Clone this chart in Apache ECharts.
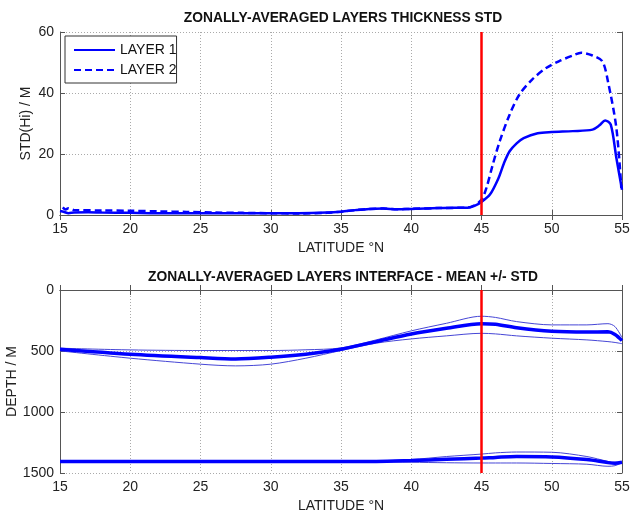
<!DOCTYPE html>
<html><head><meta charset="utf-8">
<script src="https://cdn.jsdelivr.net/npm/echarts@6/dist/echarts.min.js"></script>
<style>html,body{margin:0;padding:0;background:#fff}#c{width:632px;height:513px}</style>
</head><body><div id="c"></div>
<script>
// ---- data ----
const markerLat = 45;

const layer1Lat = [15.0,15.3,15.6,16,17,18,20,22,25,28,30,32,34,35,36,37,38,39,40,41,42,43,44,44.5,45,45.6,46.2,46.6,47.0,47.5,48.0,49.0,50.0,51.5,52.9,53.4,53.8,54.2,54.6,55.0];
const layer1Std = [1.3,1.0,0.6,0.8,0.9,0.8,0.7,0.6,0.6,0.6,0.6,0.6,0.8,1.1,1.6,2.0,2.1,1.9,2.0,2.1,2.3,2.4,2.4,3.0,4.3,6.7,12,17,20.9,23.5,25.2,26.8,27.2,27.5,28.0,29.4,31.0,29.6,18.7,8.3];

const layer2Lat = [15.2,15.4,15.6,16,18,20,22,24,26,28,30,32,34,35,36,37,38,39,40,42,44,44.5,45,45.35,45.8,46.3,47.0,47.7,48.6,49.6,50.5,51.5,52.1,52.9,53.6,54.0,54.6,54.95];
const layer2Std = [2.5,1.8,2.2,1.6,1.5,1.4,1.2,1.0,0.8,0.7,0.6,0.5,0.7,1.1,1.6,2.0,2.1,1.9,2.0,2.3,2.4,3.2,5.0,8.9,16.5,24.2,32.9,39.5,44.4,48.2,50.4,52.3,53.2,52.3,50.4,43.8,28.5,8.9];

const ifaceLat = [15,20,25,27.5,30,32.5,35,37.5,40,42.5,45,46,47.5,50,52.5,54,54.5,55];
const iface1Mean = [485,526,554,565,551,526,485,423,360,314,276,281,310,338,344,343,365,415];
const iface1Up   = [477,491,496,496,496,490,475,409,335,273,215,225,259,286,286,276,300,390];
const iface1Down = [499,559,608,622,608,559,496,436,401,376,355,360,376,395,409,423,430,440];
const iface2Mean = [1405,1405,1405,1405,1405,1405,1405,1405,1398,1388,1378,1372,1365,1368,1390,1415,1420,1412];
const iface2Up   = [1405,1405,1405,1405,1405,1405,1405,1402,1390,1365,1345,1335,1328,1330,1365,1405,1412,1408];
const iface2Down = [1405,1405,1405,1405,1405,1405,1405,1408,1412,1416,1418,1418,1418,1422,1428,1445,1440,1415];

// ---- build ----
const zip = (xs, ys) => xs.map((x, i) => [x, ys[i]]);
const FONT = 'Liberation Sans';
const axisLine = {show: true, lineStyle: {color: '#555', width: 1}};
const splitLine = {show: true, lineStyle: {color: '#aaa', type: [1, 2], width: 1}};
const tick = {show: true, inside: true, length: 5, lineStyle: {color: '#555'}};
const xlbl = {color: '#222', fontSize: 14, fontFamily: FONT, margin: 7};
const ylbl = {color: '#222', fontSize: 14, fontFamily: FONT, margin: 6, formatter: v => String(v)};
const nameStyle = {color: '#222', fontSize: 14, fontFamily: FONT};

function xAx(gi) {
  return [
    {type: 'value', gridIndex: gi, min: 15, max: 55, interval: 5, position: 'bottom',
     axisLine, axisTick: tick, splitLine, axisLabel: xlbl, nameMoveOverlap: false,
     name: 'LATITUDE °N', nameLocation: 'middle', nameGap: 26, nameTextStyle: nameStyle},
    {type: 'value', gridIndex: gi, min: 15, max: 55, interval: 5, position: 'top',
     axisLine, axisTick: tick, splitLine: {show: false}, axisLabel: {show: false}}
  ];
}
const xAxes = [...xAx(0), ...xAx(1)];
const yAxes = [
  {type: 'value', gridIndex: 0, min: 0, max: 60, interval: 20, position: 'left',
   axisLine, axisTick: tick, splitLine, axisLabel: ylbl, nameMoveOverlap: false,
   name: 'STD(Hi) / M', nameLocation: 'middle', nameGap: 27, nameTextStyle: nameStyle},
  {type: 'value', gridIndex: 0, min: 0, max: 60, interval: 20, position: 'right',
   axisLine, axisTick: tick, splitLine: {show: false}, axisLabel: {show: false}},
  {type: 'value', gridIndex: 1, min: 0, max: 1500, interval: 500, inverse: true, position: 'left',
   axisLine, axisTick: tick, splitLine, axisLabel: ylbl, nameMoveOverlap: false,
   name: 'DEPTH / M', nameLocation: 'middle', nameGap: 41, nameTextStyle: nameStyle},
  {type: 'value', gridIndex: 1, min: 0, max: 1500, interval: 500, inverse: true, position: 'right',
   axisLine, axisTick: tick, splitLine: {show: false}, axisLabel: {show: false}}
];

const blue = '#0000ff';
const thin = {color: '#4646d6', width: 1};
const redMark = (v) => ({silent: true, symbol: 'none', label: {show: false},
  lineStyle: {color: '#ff0000', width: 2.5, type: 'solid'}, data: [{xAxis: v}]});

function ln(name, data, xi, yi, style, extra) {
  return Object.assign({type: 'line', name, data, xAxisIndex: xi, yAxisIndex: yi,
    showSymbol: false, symbol: 'none', smooth: 0.3, lineStyle: style, itemStyle: {color: style.color},
    animation: false, z: 3}, extra || {});
}

const series = [
  ln('LAYER 1', zip(layer1Lat, layer1Std), 0, 0, {color: blue, width: 2.5, type: 'solid'}),
  ln('LAYER 2', zip(layer2Lat, layer2Std), 0, 0, {color: blue, width: 2.5, type: [7, 4]},
     {markLine: redMark(markerLat)}),
  ln('i1up', zip(ifaceLat, iface1Up), 2, 2, thin),
  ln('i1down', zip(ifaceLat, iface1Down), 2, 2, thin),
  ln('i1mean', zip(ifaceLat, iface1Mean), 2, 2, {color: blue, width: 3.5}),
  ln('i2up', zip(ifaceLat, iface2Up), 2, 2, thin),
  ln('i2down', zip(ifaceLat, iface2Down), 2, 2, thin),
  ln('i2mean', zip(ifaceLat, iface2Mean), 2, 2, {color: blue, width: 3.5},
     {markLine: redMark(markerLat)})
];

const chart = echarts.init(document.getElementById('c'), null, {renderer: 'canvas'});
chart.setOption({
  backgroundColor: '#fff',
  animation: false,
  title: [
    {text: 'ZONALLY-AVERAGED LAYERS THICKNESS STD', left: 338, textAlign: 'center', top: 6,
     textStyle: {fontSize: 13.8, fontWeight: 'bold', color: '#111', fontFamily: FONT}},
    {text: 'ZONALLY-AVERAGED LAYERS INTERFACE - MEAN +/- STD', left: 338, textAlign: 'center', top: 265,
     textStyle: {fontSize: 13.8, fontWeight: 'bold', color: '#111', fontFamily: FONT}}
  ],
  legend: {
    data: [{name: 'LAYER 1'}, {name: 'LAYER 2'}],
    orient: 'vertical', left: 65, top: 36, padding: [7, 0, 6, 8], itemGap: 6,
    itemWidth: 41, itemHeight: 15, borderColor: '#333', borderWidth: 1, backgroundColor: '#fff',
    borderRadius: 0, selectedMode: false,
    itemStyle: {opacity: 0},
    textStyle: {color: '#111', fontSize: 14, fontFamily: FONT}
  },
  grid: [
    {left: 60, right: 10, top: 32, height: 183, show: false, outerBoundsMode: 'none', containLabel: false},
    {left: 60, right: 10, top: 290, height: 183, show: false, outerBoundsMode: 'none', containLabel: false}
  ],
  xAxis: xAxes,
  yAxis: yAxes,
  series
});
</script></body></html>
